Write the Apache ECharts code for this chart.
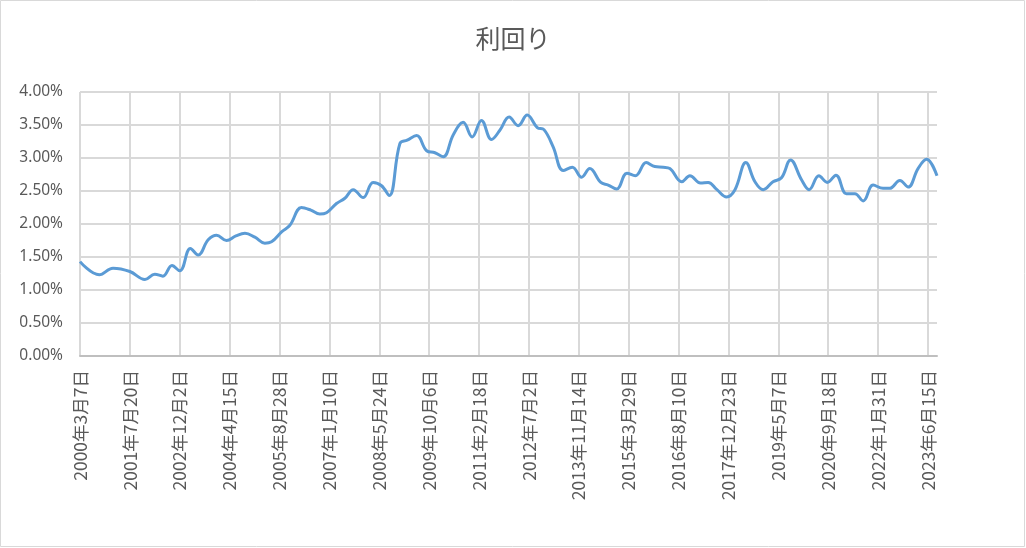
<!DOCTYPE html>
<html>
<head>
<meta charset="utf-8">
<script src="https://cdn.jsdelivr.net/npm/echarts@6/dist/echarts.min.js"></script>
<style>
html,body{margin:0;padding:0;background:#fff;}
#chart{width:1026px;height:548px;}
</style>
</head>
<body>
<div id="chart"></div>
<script>
const title = '利回り';
const startDate = '2000-03-07';
const endDate = '2023-09-14';
const dates = [
'2000-03-07','2000-09-16','2001-02-01','2001-07-20','2001-12-18','2002-03-27','2002-06-16','2002-09-15','2002-12-02',
'2003-03-19','2003-06-04','2003-09-13','2003-12-06','2004-03-15','2004-06-17','2004-09-16','2004-12-24',
'2005-04-03','2005-06-09','2005-09-18','2005-12-10','2006-04-05','2006-07-08','2006-10-06','2006-12-12',
'2007-03-22','2007-06-14','2007-09-06','2007-12-15','2008-03-23','2008-06-16','2008-09-01','2008-12-17',
'2009-02-28','2009-06-02','2009-09-11','2009-12-03','2010-02-25','2010-06-04','2010-09-12','2010-12-11',
'2011-03-14','2011-06-23','2011-09-15','2011-12-17','2012-03-16','2012-06-15','2012-09-24','2012-11-30',
'2013-03-02','2013-06-11','2013-09-10','2013-12-12','2014-03-04','2014-06-23','2014-09-05','2014-11-28',
'2015-03-12','2015-06-04','2015-09-21','2015-12-16','2016-03-10','2016-05-15','2016-09-10','2016-12-02',
'2017-03-18','2017-06-03','2017-08-30','2017-12-05','2018-02-27','2018-06-16','2018-09-15','2018-12-07',
'2019-03-15','2019-06-08','2019-09-07','2019-12-26','2020-03-11','2020-06-17','2020-09-09','2020-12-05',
'2021-03-20','2021-06-13','2021-09-04','2021-12-13','2022-03-22','2022-05-28','2022-09-07','2022-11-29',
'2023-03-08','2023-06-01','2023-09-14'
];
const yields = [
1.43,1.23,1.33,1.28,1.16,1.24,1.21,1.37,1.29,
1.63,1.53,1.76,1.83,1.75,1.82,1.86,1.80,
1.71,1.73,1.88,1.98,2.25,2.21,2.15,2.17,
2.31,2.39,2.52,2.40,2.63,2.58,2.43,3.22,
3.27,3.34,3.11,3.08,3.02,3.35,3.54,3.32,
3.57,3.28,3.42,3.62,3.49,3.65,3.46,3.43,
3.17,2.81,2.86,2.71,2.84,2.63,2.59,2.53,
2.77,2.73,2.93,2.87,2.86,2.84,2.64,2.73,
2.62,2.63,2.52,2.41,2.52,2.93,2.64,2.52,
2.64,2.70,2.97,2.67,2.52,2.73,2.63,2.74,
2.46,2.46,2.35,2.59,2.54,2.54,2.66,2.56,
2.84,2.98,2.73
];
const yTicks = {min: 0, max: 4, interval: 0.5};
const xTickDays = 500;

const DAY = 86400000;
function toMs(s){const p=s.split('-').map(Number);return Date.UTC(p[0],p[1]-1,p[2]);}
const t0 = toMs(startDate);
function dayOf(s){return Math.round((toMs(s)-t0)/DAY);}
const seriesData = dates.map((d,i)=>[dayOf(d), yields[i]]);

const font = '"Noto Sans CJK JP","Noto Sans",sans-serif';
const chart = echarts.init(document.getElementById('chart'));
chart.setOption({
  animation:false,
  backgroundColor:'#fff',
  textStyle:{fontFamily:font},
  title:{text:title,left:'center',top:21,textStyle:{fontSize:25,fontWeight:'normal',color:'#595959',fontFamily:font}},
  graphic:[{type:'rect',shape:{x:0.5,y:0.5,width:1024,height:546},style:{fill:'none',stroke:'#D9D9D9',lineWidth:1},silent:true,z:-1}],
  grid:{left:80,right:89,top:92,bottom:192,containLabel:false},
  xAxis:{
    type:'value',min:0,max:dayOf(endDate),interval:xTickDays,
    axisLine:{show:true,lineStyle:{color:'#BFBFBF',width:2}},
    axisTick:{show:false},
    splitLine:{show:true,showMinLine:true,showMaxLine:false,lineStyle:{color:'#D9D9D9',width:2}},
    axisLabel:{
      rotate:90,margin:14,fontSize:17.5,color:'#595959',fontFamily:font,
      showMaxLabel:false,showMinLabel:true,
      formatter:function(v){const d=new Date(t0+v*DAY);return d.getUTCFullYear()+'年'+(d.getUTCMonth()+1)+'月'+d.getUTCDate()+'日';}
    }
  },
  yAxis:{
    type:'value',min:yTicks.min,max:yTicks.max,interval:yTicks.interval,
    axisLine:{show:false},axisTick:{show:false},
    splitLine:{show:true,lineStyle:{color:'#D9D9D9',width:2}},
    axisLabel:{fontSize:15.5,color:'#595959',margin:17,fontFamily:'"Noto Sans",sans-serif',
      formatter:function(v){return v.toFixed(2)+'%';}}
  },
  series:[{
    type:'line',data:seriesData,smooth:0.4,showSymbol:false,
    lineStyle:{color:'#5B9BD5',width:3},itemStyle:{color:'#5B9BD5'}
  }]
});
</script>
</body>
</html>
